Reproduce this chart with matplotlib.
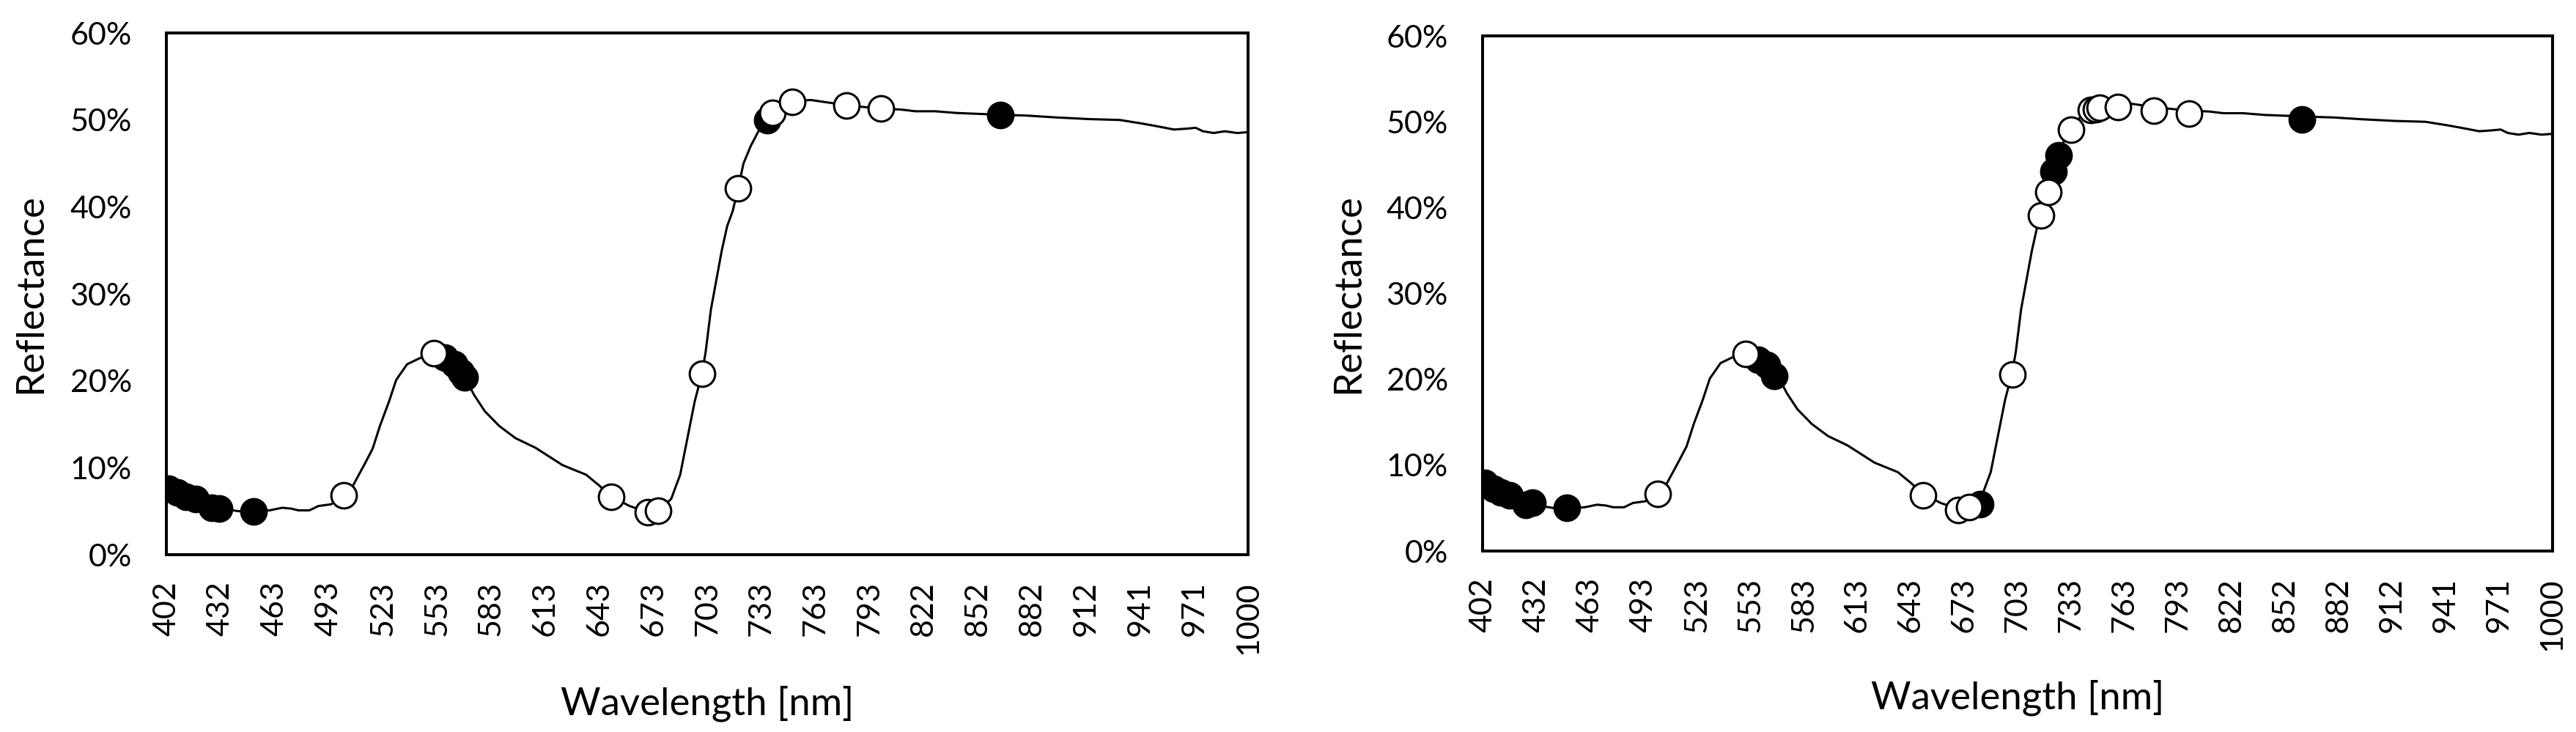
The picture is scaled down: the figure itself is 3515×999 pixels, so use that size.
import matplotlib
matplotlib.use('Agg')
import matplotlib.pyplot as plt
import numpy as np

plt.rcParams['font.family'] = ['Lato', 'DejaVu Sans']

# spectrum (nm, reflectance %)
wavelength = [402, 406, 410, 414, 418, 422, 427, 431, 436, 442, 450, 459, 466, 471, 475, 481, 486, 493,
              500, 505, 512, 516, 520, 525, 529, 535, 542, 550, 558, 565, 567, 572, 578, 586, 595, 606,
              612, 621, 634, 641, 648, 658, 668, 674, 681, 686, 690, 694, 698, 700, 703, 706, 709, 712,
              715, 718, 721, 725, 729, 734, 737, 742, 747, 758, 768, 778, 787, 797, 808, 816, 827, 839,
              851, 863, 878, 893, 912, 929, 941, 949, 959, 966, 971, 975, 981, 987, 994, 1000]
reflectance = [7.8, 7.4, 7.0, 6.6, 6.3, 5.9, 5.4, 5.3, 5.2, 5.0, 5.0, 5.1, 5.4, 5.3, 5.1, 5.1, 5.6, 5.8,
               6.8, 7.9, 10.6, 12.2, 14.8, 17.6, 20.1, 21.9, 22.6, 23.2, 22.6, 21.3, 20.4, 18.4, 16.5, 14.8, 13.4, 12.3,
               11.5, 10.3, 9.2, 8.0, 6.7, 5.6, 4.9, 5.1, 6.4, 9.2, 13.4, 17.6, 20.8, 23.2, 28.2, 31.6, 35.0, 37.8,
               39.5, 42.1, 45.0, 47.0, 48.6, 50.0, 50.8, 51.6, 52.1, 52.3, 52.0, 51.7, 51.5, 51.3, 51.2, 51.0, 51.0, 50.8,
               50.7, 50.6, 50.5, 50.3, 50.1, 50.0, 49.6, 49.3, 48.9, 49.0, 49.1, 48.7, 48.5, 48.7, 48.5, 48.6]

tick_labels = ['402', '432', '463', '493', '523', '553', '583', '613', '643', '673', '703',
               '733', '763', '793', '822', '852', '882', '912', '941', '971', '1000']

# selected bands, left panel
left_filled_wl = [403, 408, 413, 418, 427, 431, 450, 556, 561, 565, 567, 734, 863]
left_filled_r = [7.6, 7.2, 6.7, 6.4, 5.4, 5.3, 5.0, 22.7, 21.9, 21.0, 20.4, 50.0, 50.6]
left_open_wl = [500, 550, 648, 668, 674, 698, 718, 737, 748, 778, 797]
left_open_r = [6.8, 23.2, 6.7, 4.9, 5.1, 20.8, 42.1, 50.8, 52.1, 51.7, 51.3]

# selected bands, right panel
right_filled_wl = [403, 408, 412, 417, 426, 430, 449, 556, 561, 565, 680, 721, 724, 860]
right_filled_r = [7.9, 7.3, 6.8, 6.5, 5.4, 5.6, 5.0, 22.3, 21.7, 20.4, 5.5, 44.2, 46.1, 50.3]
right_open_wl = [500, 549, 648, 668, 674, 698, 714, 718, 731, 742, 745, 747, 757, 777, 797]
right_open_r = [6.7, 23.0, 6.5, 4.8, 5.1, 20.6, 39.1, 41.8, 49.1, 51.4, 51.5, 51.6, 51.7, 51.3, 51.0]

fig = plt.figure(figsize=(35.16, 9.99), dpi=100)
ax_l = fig.add_axes([0.0646, 0.2422, 0.4198, 0.7127])
ax_r = fig.add_axes([0.5754, 0.2472, 0.4152, 0.7037])

panels = [(ax_l, left_filled_wl, left_filled_r, left_open_wl, left_open_r),
          (ax_r, right_filled_wl, right_filled_r, right_open_wl, right_open_r)]

for ax, fwl, fr, owl, orr in panels:
    ax.plot(wavelength, reflectance, '-', color='black', lw=2.2, zorder=2)
    ax.plot(fwl, fr, 'o', ms=25, mfc='black', mec='black', mew=2.2, ls='none', zorder=3)
    ax.plot(owl, orr, 'o', ms=25, mfc='white', mec='black', mew=2.2, ls='none', zorder=4)
    ax.set_xlim(402, 1000)
    ax.set_ylim(0, 60)
    ax.set_yticks(np.arange(0, 61, 10))
    ax.set_yticklabels(['%d%%' % v for v in range(0, 61, 10)], fontsize=31)
    ax.set_xticks(np.linspace(402, 1000, len(tick_labels)))
    ax.set_xticklabels(tick_labels, rotation=90, fontsize=31)
    ax.tick_params(axis='y', length=0, pad=34)
    ax.tick_params(axis='x', length=0, pad=26)
    for s in ax.spines.values():
        s.set_linewidth(2.9)
        s.set_color('black')
    ax.set_ylabel('Reflectance', fontsize=38)
    ax.set_xlabel('Wavelength [nm]', fontsize=38)
    ax.yaxis.set_label_coords(-0.126, 0.5)
    ax.xaxis.set_label_coords(0.5, -0.285)
    ax.xaxis.label.set_va('center')
    ax.yaxis.label.set_va('center')

fig.savefig('out.png', dpi=100, facecolor='white')
